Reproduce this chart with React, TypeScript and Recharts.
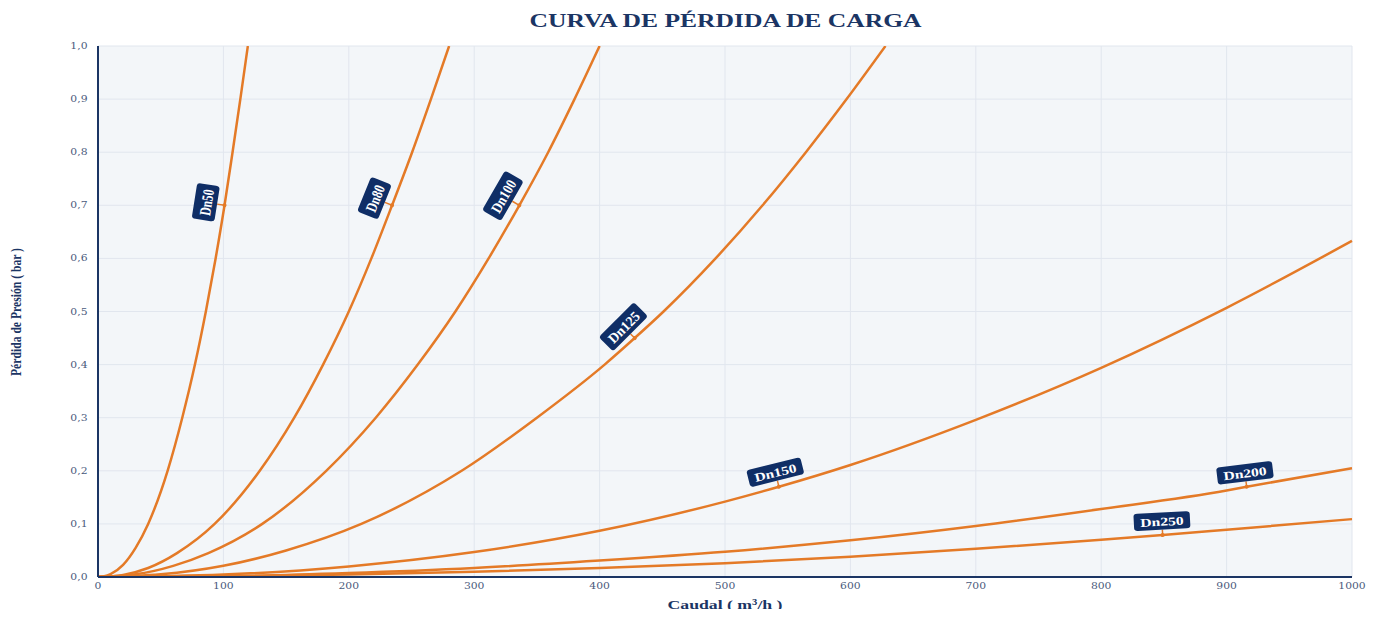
import React from "react";
import {
  LineChart,
  Line,
  XAxis,
  YAxis,
  CartesianGrid,
  ReferenceDot,
} from "recharts";

type Pt = { q: number; p: number };

// caudal (m³/h) vs pérdida (bar)
const dn50: Pt[] = [
  { q: 0, p: 0 }, { q: 5, p: 0.0013 }, { q: 10, p: 0.0055 }, { q: 20, p: 0.023 },
  { q: 30, p: 0.055 }, { q: 40, p: 0.1 }, { q: 55.5, p: 0.2 }, { q: 67.2, p: 0.3 },
  { q: 77.3, p: 0.4 }, { q: 86, p: 0.5 }, { q: 93.8, p: 0.6 }, { q: 100.9, p: 0.7 },
  { q: 107.3, p: 0.8 }, { q: 113.5, p: 0.9 }, { q: 119.5, p: 1.0 },
];

const dn80: Pt[] = [
  { q: 0, p: 0 }, { q: 20, p: 0.004 }, { q: 40, p: 0.017 }, { q: 63, p: 0.045 },
  { q: 93, p: 0.1 }, { q: 129, p: 0.2 }, { q: 156.5, p: 0.3 }, { q: 179.5, p: 0.4 },
  { q: 200, p: 0.5 }, { q: 218, p: 0.6 }, { q: 234.5, p: 0.7 }, { q: 250.5, p: 0.8 },
  { q: 265.5, p: 0.9 }, { q: 280, p: 1.0 },
];

const dn100: Pt[] = [
  { q: 0, p: 0 }, { q: 30, p: 0.005 }, { q: 60, p: 0.021 }, { q: 88, p: 0.045 },
  { q: 131, p: 0.1 }, { q: 182, p: 0.2 }, { q: 221.5, p: 0.3 }, { q: 255, p: 0.4 },
  { q: 285, p: 0.5 }, { q: 311.5, p: 0.6 }, { q: 336, p: 0.7 }, { q: 359, p: 0.8 },
  { q: 380, p: 0.9 }, { q: 400, p: 1.0 },
];

const dn125: Pt[] = [
  { q: 0, p: 0 }, { q: 50, p: 0.005 }, { q: 100, p: 0.021 }, { q: 150, p: 0.05 },
  { q: 210, p: 0.1 }, { q: 290, p: 0.2 }, { q: 350, p: 0.3 }, { q: 404, p: 0.4 },
  { q: 428, p: 0.45 }, { q: 451, p: 0.5 }, { q: 492.5, p: 0.6 }, { q: 530, p: 0.7 },
  { q: 564.5, p: 0.8 }, { q: 597, p: 0.9 }, { q: 628, p: 1.0 },
];

const dn150: Pt[] = [
  { q: 0, p: 0 }, { q: 100, p: 0.0045 }, { q: 200, p: 0.02 }, { q: 300, p: 0.047 },
  { q: 400, p: 0.087 }, { q: 500, p: 0.142 }, { q: 543, p: 0.17 }, { q: 600, p: 0.211 },
  { q: 700, p: 0.296 }, { q: 800, p: 0.394 }, { q: 900, p: 0.507 }, { q: 1000, p: 0.633 },
];

const dn200: Pt[] = [
  { q: 0, p: 0 }, { q: 100, p: 0.0015 }, { q: 200, p: 0.0075 }, { q: 300, p: 0.017 },
  { q: 400, p: 0.031 }, { q: 500, p: 0.0475 }, { q: 600, p: 0.069 }, { q: 700, p: 0.096 },
  { q: 800, p: 0.128 }, { q: 900, p: 0.163 }, { q: 916, p: 0.17 }, { q: 1000, p: 0.205 },
];

const dn250: Pt[] = [
  { q: 0, p: 0 }, { q: 100, p: 0.0012 }, { q: 200, p: 0.0048 }, { q: 300, p: 0.01 },
  { q: 400, p: 0.017 }, { q: 500, p: 0.026 }, { q: 600, p: 0.038 }, { q: 700, p: 0.053 },
  { q: 800, p: 0.07 }, { q: 849, p: 0.079 }, { q: 900, p: 0.089 }, { q: 1000, p: 0.109 },
];

const series = [
  { name: "Dn50", data: dn50 },
  { name: "Dn80", data: dn80 },
  { name: "Dn100", data: dn100 },
  { name: "Dn125", data: dn125 },
  { name: "Dn150", data: dn150 },
  { name: "Dn200", data: dn200 },
  { name: "Dn250", data: dn250 },
];

// where each curve carries its name tag
const tags = [
  { name: "Dn50", q: 100.9, p: 0.7 },
  { name: "Dn80", q: 234.5, p: 0.7 },
  { name: "Dn100", q: 336, p: 0.7 },
  { name: "Dn125", q: 428, p: 0.45 },
  { name: "Dn150", q: 543, p: 0.17 },
  { name: "Dn200", q: 916, p: 0.17 },
  { name: "Dn250", q: 849, p: 0.079 },
];

const qTicks = [0, 100, 200, 300, 400, 500, 600, 700, 800, 900, 1000];
const pTicks = [0, 0.1, 0.2, 0.3, 0.4, 0.5, 0.6, 0.7, 0.8, 0.9, 1.0];

const title = "CURVA DE PÉRDIDA DE CARGA";
const xTitle = "Caudal ( m³/h )";
const yTitle = "Pérdida de Presión ( bar )";

// styling
const ORANGE = "#e47a27";
const NAVY = "#1b3564";
const TAG_BG = "#0f2e66";
const TICK = "#4a5a7c";
const SX = 1.28; // the reference is stretched horizontally
const SY = 0.95;

const tagLook: Record<string, { angle: number; dist: number }> = {
  Dn50: { angle: -81, dist: 19 },
  Dn80: { angle: -68, dist: 19 },
  Dn100: { angle: -60, dist: 19 },
  Dn125: { angle: -45, dist: 16 },
  Dn150: { angle: -14, dist: 15 },
  Dn200: { angle: -7, dist: 14 },
  Dn250: { angle: -3, dist: 14 },
};

function Tag({ cx, cy, text }: { cx: number; cy: number; text: string }) {
  const { angle, dist } = tagLook[text];
  const r = (angle * Math.PI) / 180;
  const fa = Math.sqrt((SX * Math.cos(r)) ** 2 + (SY * Math.sin(r)) ** 2);
  const fc = Math.sqrt((SX * Math.sin(r)) ** 2 + (SY * Math.cos(r)) ** 2);
  const fs = 12.5;
  const tw = text.length * 6.6 + 1;
  const w = tw + 10;
  const h = 18;
  return (
    <g transform={`translate(${cx},${cy}) rotate(${angle})`}>
      <line x1={0} y1={0} x2={0} y2={-dist + (h * fc) / 2} stroke={ORANGE} strokeWidth={1.5} />
      <circle cx={0} cy={0} r={2} fill={ORANGE} />
      <g transform={`translate(0,${-dist}) scale(${fa},${fc})`}>
        <rect x={-w / 2} y={-h / 2} width={w} height={h} rx={3} fill={TAG_BG} />
        <text
          x={0}
          y={0.5}
          textAnchor="middle"
          dominantBaseline="central"
          fontFamily="'Liberation Serif', serif"
          fontWeight="bold"
          fontSize={fs}
          fill="#ffffff"
          textLength={tw}
          lengthAdjust="spacingAndGlyphs"
        >
          {text}
        </text>
      </g>
    </g>
  );
}

function XTick(props: any) {
  const { x, y, payload } = props;
  return (
    <g transform={`translate(${x},${y + 12}) scale(1.27,1)`}>
      <text textAnchor="middle" fontFamily="'DejaVu Serif', serif" fontSize={8.5} fill={TICK}>
        {payload.value}
      </text>
    </g>
  );
}

function YTick(props: any) {
  const { x, y, payload } = props;
  return (
    <g transform={`translate(${x - 10.5},${y}) scale(1.27,1)`}>
      <text
        textAnchor="end"
        dominantBaseline="central"
        fontFamily="'DejaVu Serif', serif"
        fontSize={8.5}
        fill={TICK}
      >
        {Number(payload.value).toFixed(1).replace(".", ",")}
      </text>
    </g>
  );
}

export default function App() {
  return (
    <div style={{ position: "relative", width: 1367, height: 601 }}>
      <LineChart
        width={1367}
        height={601}
        margin={{ top: 38, right: 23, left: 0, bottom: 0 }}
      >
        <CartesianGrid fill="#f3f6f9" stroke="#e1e6ee" strokeWidth={1} />
        <XAxis
          dataKey="q"
          type="number"
          domain={[0, 1000]}
          ticks={qTicks}
          height={32}
          tickLine={false}
          tickSize={0}
          tickMargin={0}
          tick={<XTick />}
          axisLine={{ stroke: NAVY, strokeWidth: 2 }}
        />
        <YAxis
          dataKey="p"
          type="number"
          domain={[0, 1]}
          ticks={pTicks}
          width={90}
          allowDataOverflow
          tickLine={false}
          tickSize={0}
          tickMargin={0}
          tick={<YTick />}
          axisLine={{ stroke: NAVY, strokeWidth: 2 }}
        />
        {series.map((s) => (
          <Line
            key={s.name}
            data={s.data}
            dataKey="p"
            name={s.name}
            type="monotone"
            stroke={ORANGE}
            strokeWidth={2.5}
            dot={false}
            activeDot={false}
            isAnimationActive={false}
          />
        ))}
        {tags.map((t) => (
          <ReferenceDot
            key={t.name}
            x={t.q}
            y={t.p}
            r={0}
            shape={(p: any) => <Tag cx={p.cx} cy={p.cy} text={t.name} />}
          />
        ))}
      </LineChart>
      <svg
        width={1367}
        height={609}
        style={{ position: "absolute", left: 0, top: 0, pointerEvents: "none", overflow: "visible" }}
      >
        <text
          x={717.5}
          y={18.7}
          textAnchor="middle"
          fontFamily="'Liberation Serif', serif"
          fontWeight="bold"
          fontSize={18}
          fill={NAVY}
          textLength={392}
          lengthAdjust="spacingAndGlyphs"
        >
          {title}
        </text>
        <text
          x={717}
          y={601}
          textAnchor="middle"
          fontFamily="'Liberation Serif', serif"
          fontWeight="bold"
          fontSize={13.5}
          fill={NAVY}
          textLength={115}
          lengthAdjust="spacingAndGlyphs"
        >
          {xTitle}
        </text>
        <text
          transform="translate(12.5,304) rotate(-90)"
          textAnchor="middle"
          fontFamily="'Liberation Serif', serif"
          fontWeight="bold"
          fontSize={14.5}
          fill={NAVY}
          textLength={128}
          lengthAdjust="spacingAndGlyphs"
        >
          {yTitle}
        </text>
      </svg>
    </div>
  );
}
